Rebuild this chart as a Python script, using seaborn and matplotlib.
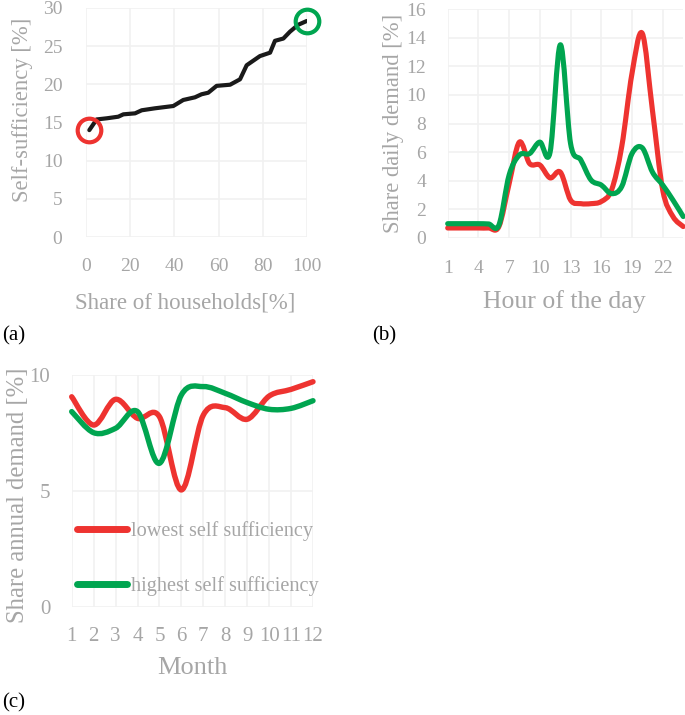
import numpy as np
import pandas as pd
import matplotlib
matplotlib.use("Agg")
import matplotlib.pyplot as plt
import seaborn as sns
from matplotlib.path import Path
from matplotlib.patches import PathPatch
from matplotlib.lines import Line2D

# (a) self-sufficiency vs share of households
share_households = [1.5, 4.8, 9.4, 14.6, 16.9, 22.2, 25.2, 31.2, 39.5, 44.0, 49.3, 52.3,
                    55.3, 59.1, 65.2, 69.7, 72.7, 78.7, 83.3, 85.5, 89.3, 92.3, 96.0, 99.9]
self_sufficiency = [14.0, 15.4, 15.55, 15.76, 16.07, 16.2, 16.6, 16.86, 17.16, 17.95, 18.3, 18.7,
                    18.9, 19.8, 19.95, 20.66, 22.5, 23.7, 24.15, 25.7, 26.0, 26.9, 27.8, 28.3]

# (b) daily demand profile
hours = list(range(1, 25))
daily_low = [0.7, 0.7, 0.7, 0.7, 0.7, 0.8, 3.8, 6.7, 5.2, 5.1, 4.2, 4.6,
             2.65, 2.4, 2.4, 2.55, 3.35, 6.4, 11.5, 14.3, 8.9, 3.35, 1.5, 0.8]
daily_high = [1.0, 1.0, 1.0, 1.0, 0.98, 0.9, 4.4, 5.8, 5.9, 6.7, 6.0, 13.5,
              6.6, 5.45, 4.05, 3.7, 3.1, 3.6, 5.9, 6.3, 4.6, 3.7, 2.65, 1.5]

# (c) annual demand profile
months = list(range(1, 13))
annual_low = [9.06, 7.84, 8.95, 8.13, 8.2, 5.04, 8.27, 8.59, 8.09, 9.09, 9.38, 9.71]
annual_high = [8.42, 7.51, 7.7, 8.42, 6.19, 9.14, 9.5, 9.21, 8.81, 8.52, 8.56, 8.89]

RED = "#ee3330"
GREEN = "#00a550"
GREY = "#a6a6a6"
W, H = 685, 715

sns.set_style("whitegrid", {"grid.color": "#f1f1f1"})
plt.rcParams["font.family"] = ["Liberation Serif", "DejaVu Serif"]

fig = plt.figure(figsize=(W / 100, H / 100), dpi=100)


def px_axes(x0, x1, y_top, y_bot):
    return fig.add_axes([x0 / W, 1 - y_bot / H, (x1 - x0) / W, (y_bot - y_top) / H])


def smooth_line(ax, x, y, color, lw):
    # Excel-style smoothed line, bezier through the data points
    pts = np.column_stack([x, y]).astype(float)
    verts = [pts[0]]
    codes = [Path.MOVETO]
    n = len(pts)
    for i in range(n - 1):
        p0 = pts[i - 1] if i > 0 else pts[i]
        p1 = pts[i]
        p2 = pts[i + 1]
        p3 = pts[i + 2] if i + 2 < n else pts[i + 1]
        verts += [p1 + (p2 - p0) / 6, p2 - (p3 - p1) / 6, p2]
        codes += [Path.CURVE4] * 3
    ax.add_patch(PathPatch(Path(verts, codes), fill=False, edgecolor=color, lw=lw,
                           capstyle="round", joinstyle="round", clip_on=False))


def style(ax, xpad, ypad, size=14):
    for s in ax.spines.values():
        s.set_visible(False)
    ax.tick_params(length=0, labelcolor=GREY, labelsize=size)
    ax.tick_params(axis="x", pad=xpad)
    ax.tick_params(axis="y", pad=ypad)
    ax.grid(True, lw=1.2, color="#f1f1f1")


def ftext(x, y, s, **kw):
    fig.text(x / W, 1 - y / H, s, ha="center", va="center", **kw)


# ---- (a)
ax1 = px_axes(86, 307, 8, 237)
df_a = pd.DataFrame({"share": share_households, "ss": self_sufficiency})
sns.lineplot(data=df_a, x="share", y="ss", ax=ax1, color="#1a1a1a", lw=3)
ax1.plot(share_households[0], self_sufficiency[0], "o", ms=17, mfc="none", mec=RED, mew=3, clip_on=False)
ax1.plot(share_households[-1], self_sufficiency[-1], "o", ms=17, mfc="none", mec=GREEN, mew=3, clip_on=False)
ax1.set_xlim(0, 100)
ax1.set_ylim(0, 30)
ax1.set_xticks([0, 20, 40, 60, 80, 100])
ax1.set_yticks([0, 5, 10, 15, 20, 25, 30])
ax1.set_xlabel("")
ax1.set_ylabel("")
style(ax1, 15, 17)
ftext(185, 303, "Share of households[%]", color=GREY, fontsize=16.5)
ftext(23, 110, "Self-sufficiency [%]", color=GREY, fontsize=16.3, rotation=90)
ftext(14, 336, "(a)", color="black", fontsize=15)

# ---- (b)
ax2 = px_axes(447.7, 683.2, 9, 238)
smooth_line(ax2, hours, daily_low, RED, 3.7)
smooth_line(ax2, hours, daily_high, GREEN, 3.7)
ax2.set_xlim(1, 24)
ax2.set_ylim(0, 16)
ax2.set_xticks(list(range(1, 24, 3)))
ax2.set_yticks(list(range(0, 17, 2)))
style(ax2, 16, 15.5)
ftext(564, 302, "Hour of the day", color=GREY, fontsize=18.5)
ftext(393, 123, "Share daily demand [%]", color=GREY, fontsize=16.3, rotation=90)
ftext(384, 336, "(b)", color="black", fontsize=15)

# ---- (c)
ax3 = px_axes(71.7, 313, 375, 606.7)
smooth_line(ax3, months, annual_low, RED, 3.9)
smooth_line(ax3, months, annual_high, GREEN, 3.9)
ax3.set_xlim(1, 12)
ax3.set_ylim(0, 10)
ax3.set_xticks(months)
ax3.set_yticks([0, 5, 10])
style(ax3, 14.5, 15.5, size=15)
handles = [Line2D([], [], color=RED, lw=5, solid_capstyle="round"),
           Line2D([], [], color=GREEN, lw=5, solid_capstyle="round")]
ax3.legend(handles, ["lowest self sufficiency", "highest self sufficiency"],
           loc="upper left", bbox_to_anchor=(0.02, 0.37), frameon=False,
           fontsize=14.6, labelcolor=GREY, handlelength=2.5, handletextpad=0.2,
           labelspacing=1.75, borderaxespad=0, borderpad=0)
ftext(192, 668, "Month", color=GREY, fontsize=19)
ftext(18, 495, "Share annual demand [%]", color=GREY, fontsize=17.7, rotation=90)
ftext(14, 703, "(c)", color="black", fontsize=15)

fig.savefig("out.png", dpi=100)
